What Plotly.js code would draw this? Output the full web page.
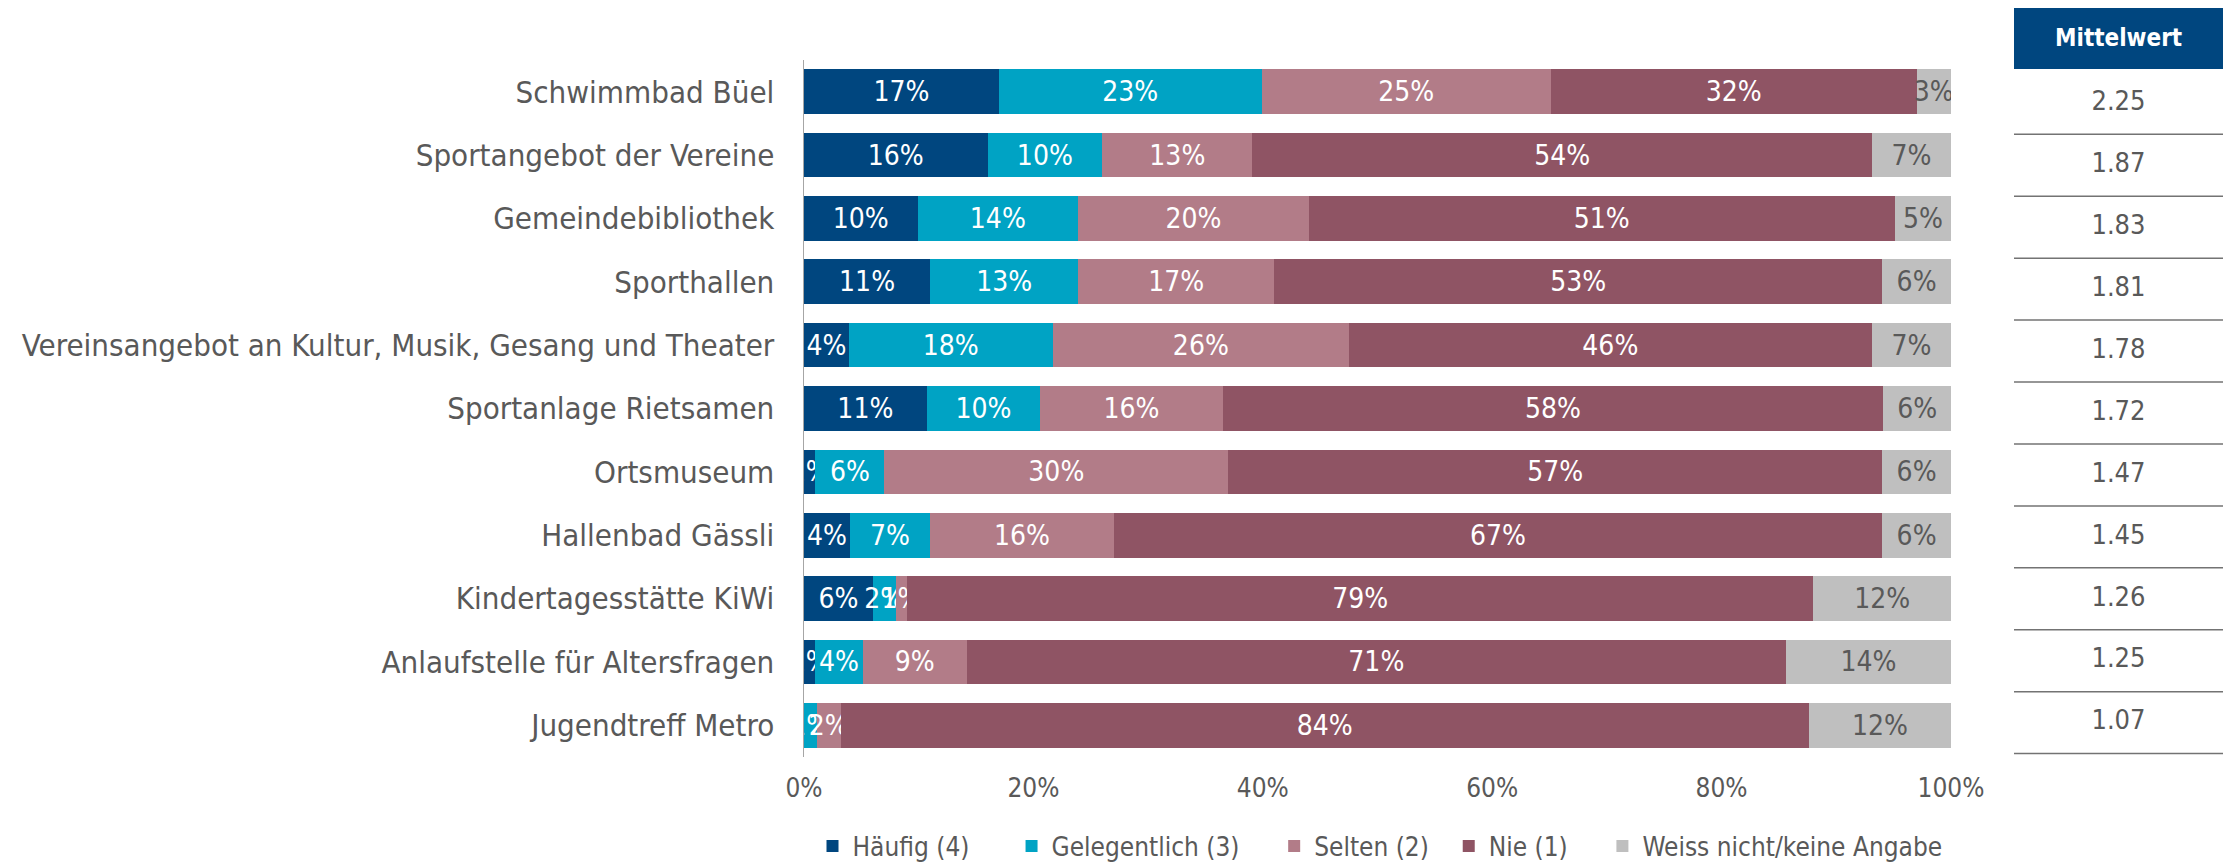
<!DOCTYPE html>
<html>
<head>
<meta charset="utf-8">
<script src="https://cdn.plot.ly/plotly-3.0.1.min.js"></script>
<style>
  html, body { margin: 0; padding: 0; background: #ffffff; }
  #chart { width: 2238px; height: 862px; }
</style>
</head>
<body>
<div id="chart"></div>
<script>
// ---- data ----
const categories = [
  "Schwimmbad Büel",
  "Sportangebot der Vereine",
  "Gemeindebibliothek",
  "Sporthallen",
  "Vereinsangebot an Kultur, Musik, Gesang und Theater",
  "Sportanlage Rietsamen",
  "Ortsmuseum",
  "Hallenbad Gässli",
  "Kindertagesstätte KiWi",
  "Anlaufstelle für Altersfragen",
  "Jugendtreff Metro"
];
const seriesNames = ["Häufig (4)", "Gelegentlich (3)", "Selten (2)", "Nie (1)", "Weiss nicht/keine Angabe"];
const haeufig      = [17.0, 16.0, 9.9, 11.0, 3.9, 10.7, 1.0, 4.0, 6.0, 1.0, 0.0];
const gelegentlich = [22.9, 10.0, 14.0, 12.9, 17.8, 9.9, 6.0, 7.0, 2.0, 4.1, 1.1];
const selten       = [25.2, 13.1, 20.1, 17.1, 25.8, 15.9, 30.0, 16.0, 1.0, 9.1, 2.1];
const nie          = [31.9, 54.0, 51.1, 53.0, 45.6, 57.6, 57.0, 67.0, 79.0, 71.4, 84.4];
const weissNicht   = [3.0, 6.9, 4.9, 6.0, 6.9, 5.9, 6.0, 6.0, 12.0, 14.4, 12.4];
const mittelwert   = [2.25, 1.87, 1.83, 1.81, 1.78, 1.72, 1.47, 1.45, 1.26, 1.25, 1.07];
const xTickVals    = [0, 20, 40, 60, 80, 100];
const xTickText    = ["0%", "20%", "40%", "60%", "80%", "100%"];
const tableHeader  = "Mittelwert";

// ---- styles ----
const FONT = "'DejaVu Sans Condensed', 'DejaVu Sans', sans-serif";
const GREY_TEXT = "#595959";
const colors = ["#00467F", "#00A3C4", "#B27C88", "#8F5464", "#BFBFBF"];
const labelColors = ["#ffffff", "#ffffff", "#ffffff", "#ffffff", GREY_TEXT];
const seriesValues = [haeufig, gelegentlich, selten, nie, weissNicht];
const legendPad = [5, 4, 2, 4, 0];   // trailing spacing of each legend entry

const traces = seriesValues.map((vals, i) => ({
  type: "bar",
  orientation: "h",
  name: seriesNames[i] + "\u00a0".repeat(legendPad[i]),
  x: vals,
  y: categories,
  xaxis: "x",
  yaxis: "y",
  marker: { color: colors[i], line: { width: 0 } },
  texttemplate: "%{x:.0f}%",
  textposition: "inside",
  insidetextanchor: "middle",
  constraintext: "none",
  textangle: 0,
  insidetextfont: { family: FONT, size: 28, color: labelColors[i] },
  hoverinfo: "skip"
}));

traces.push({
  type: "scatter",
  mode: "text",
  x: categories.map(() => 0.5),
  y: categories,
  text: mittelwert.map(v => v.toFixed(2)),
  textposition: "middle center",
  textfont: { family: FONT, size: 27, color: GREY_TEXT },
  xaxis: "x2",
  yaxis: "y2",
  showlegend: false,
  hoverinfo: "skip",
  cliponaxis: false
});

// geometry (pixels of the 2238x862 page)
const W = 2238, H = 862;
const mL = 804, mR = 15, mT = 8, mB = 0;
const pw = W - mL - mR, ph = H - mT - mB;
const py = (pix) => (H - mB - pix) / ph;   // page y pixel -> paper fraction
const px = (pix) => (pix - mL) / pw;       // page x pixel -> paper fraction
const chartRight = px(1951);
const tblLeft = px(2014);

const shapes = [{
  type: "rect", xref: "paper", yref: "paper",
  x0: tblLeft, x1: 1, y0: py(69), y1: 1,
  fillcolor: "#00467F", line: { width: 0 }, layer: "below"
}];
for (let i = 0; i < categories.length; i++) {
  shapes.push({
    type: "line", xref: "paper", yref: "y2",
    x0: tblLeft, x1: 1, y0: i + 0.5, y1: i + 0.5,
    line: { color: "#737373", width: 1.5 }
  });
}

const layout = {
  width: W, height: H,
  margin: { l: mL, r: mR, t: mT, b: mB, pad: 0, autoexpand: false },
  paper_bgcolor: "#ffffff",
  plot_bgcolor: "#ffffff",
  barmode: "stack",
  bargap: 0.295,
  font: { family: FONT, color: GREY_TEXT },
  showlegend: true,
  legend: {
    orientation: "h",
    xref: "container", yref: "container",
    x: 1380 / W, xanchor: "center",
    y: (H - 846) / H, yanchor: "middle",
    font: { family: FONT, size: 26, color: GREY_TEXT },
    traceorder: "normal",
    itemclick: false, itemdoubleclick: false
  },
  xaxis: {
    domain: [0, chartRight],
    range: [0, 100],
    tickvals: xTickVals,
    ticktext: xTickText,
    showgrid: false, zeroline: false, showline: false,
    ticks: "outside", ticklen: 8, tickcolor: "rgba(0,0,0,0)",
    tickfont: { family: FONT, size: 26, color: GREY_TEXT },
    automargin: false,
    fixedrange: true
  },
  yaxis: {
    domain: [py(757), py(60)],
    type: "category",
    categoryorder: "array",
    categoryarray: categories,
    autorange: "reversed",
    showgrid: false, zeroline: false,
    showline: true, linecolor: "#A6A6A6", linewidth: 1.5,
    ticks: "outside", ticklen: 22, tickcolor: "rgba(0,0,0,0)",
    tickfont: { family: FONT, size: 31, color: GREY_TEXT },
    automargin: false,
    fixedrange: true
  },
  xaxis2: {
    domain: [tblLeft, 1],
    range: [0, 1],
    anchor: "y2",
    visible: false,
    fixedrange: true
  },
  yaxis2: {
    domain: [py(757), py(69)],
    type: "category",
    categoryorder: "array",
    categoryarray: categories,
    autorange: "reversed",
    anchor: "x2",
    visible: false,
    fixedrange: true
  },
  shapes: shapes,
  annotations: [{
    xref: "paper", yref: "paper",
    x: (tblLeft + 1) / 2, y: (py(69) + 1) / 2,
    xanchor: "center", yanchor: "middle",
    text: "<b>" + tableHeader + "</b>",
    showarrow: false,
    font: { family: FONT, size: 24, color: "#ffffff" }
  }]
};

Plotly.newPlot("chart", traces, layout, { staticPlot: true, displayModeBar: false });
</script>
</body>
</html>
